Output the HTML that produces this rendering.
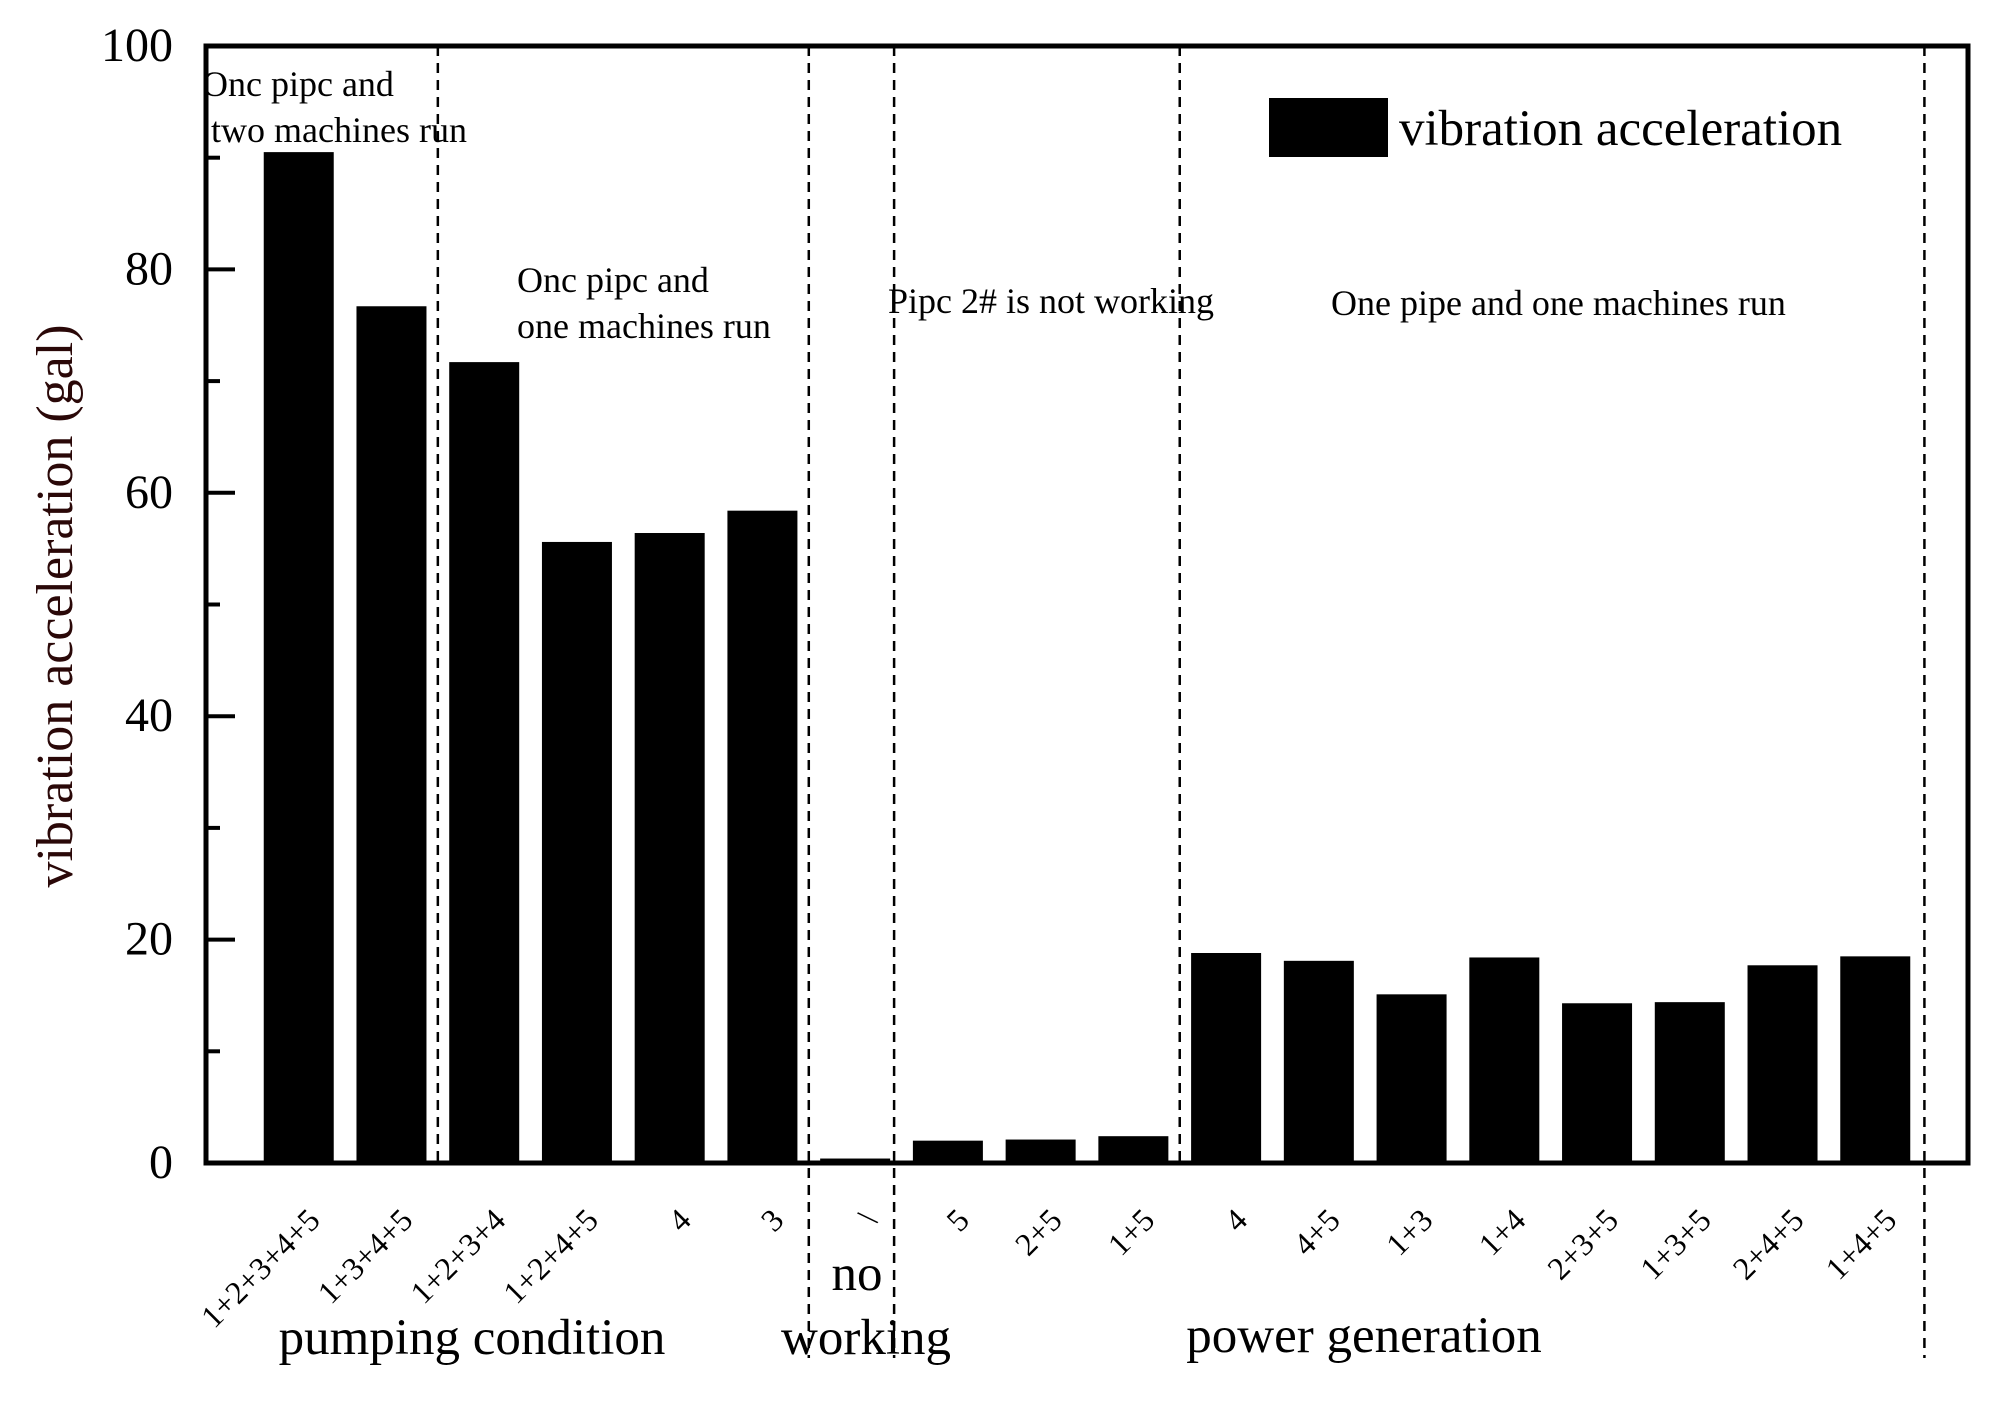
<!DOCTYPE html>
<html><head><meta charset="utf-8"><style>
html,body{margin:0;padding:0;background:#fff}
svg{display:block;font-family:"Liberation Serif",serif}
</style></head><body>
<svg id="chart" width="1995" height="1406" viewBox="0 0 1995 1406">
<g id="marks"></g>
</svg>
<script>
const categories=["1+2+3+4+5","1+3+4+5","1+2+3+4","1+2+4+5","4","3","\\","5","2+5","1+5","4","4+5","1+3","1+4","2+3+5","1+3+5","2+4+5","1+4+5"];
const values=[90.5,76.7,71.7,55.6,56.4,58.4,0.4,2.0,2.1,2.4,18.8,18.1,15.1,18.4,14.3,14.4,17.7,18.5];
const yTicks=[0,20,40,60,80,100];
const yMinor=[10,30,50,70,90];
const dividers=[2.5,6.5,7.42,10.5,18.53];
const dividerLong=[false,true,true,false,true];

const L=206,R=1968,T=46,B=1163;
const x=c=>L+(R-L)*c/19;
const y=v=>B-(B-T)*v/100;
const NS="http://www.w3.org/2000/svg";
const svg=document.getElementById('marks');
function mk(tag,attrs,parent){const e=document.createElementNS(NS,tag);for(const k in attrs)e.setAttribute(k,attrs[k]);(parent||svg).appendChild(e);return e;}

values.forEach((v,i)=>{
  const b=mk('rect',{x:x(i+1)-35,y:y(v),width:70,height:B-y(v),fill:'#000'});
  
  
  const lx=x(i+1)+23, ly=1222;
  const t=mk('text',{x:lx,y:ly,'font-size':32,'text-anchor':'end',transform:`rotate(-45 ${lx} ${ly})`});
  t.textContent=categories[i];
  
  
});
dividers.forEach((d,i)=>{
  const l=mk('line',{x1:x(d),x2:x(d),y1:T,y2:dividerLong[i]?1358:B,stroke:'#000','stroke-width':2.5,'stroke-dasharray':'10 7'});
  
  
});
yTicks.forEach(v=>{
  const l=mk('line',{x1:L,x2:L+29,y1:y(v),y2:y(v),stroke:'#000','stroke-width':4});
  
  
  const t=mk('text',{x:173,y:y(v)+15,'font-size':48,'text-anchor':'end'});
  t.textContent=v;
  
  
});
yMinor.forEach(v=>{
  const l=mk('line',{x1:L,x2:L+14,y1:y(v),y2:y(v),stroke:'#000','stroke-width':4});
  
  
});
const frame=mk('rect',{x:L,y:T,width:R-L,height:B-T,fill:'none',stroke:'#000','stroke-width':5});


</script>
<script>
(function(){
const NS="http://www.w3.org/2000/svg";
const s=document.getElementById('chart');
function tx(str,x,y,size,name,extra){const t=document.createElementNS(NS,'text');t.setAttribute('x',x);t.setAttribute('y',y);t.setAttribute('font-size',size);if(extra)for(const k in extra)t.setAttribute(k,extra[k]);t.textContent=str;


s.appendChild(t);}
tx('vibration acceleration (gal)',0,0,52,'y-axis-title',{'text-anchor':'middle',fill:'#2a0808',transform:'translate(72 606) rotate(-90)'});
tx('Onc pipc and',202,96,36,'annotation-two-machines-1');
tx('two machines run',211,142,36,'annotation-two-machines-2');
tx('Onc pipc and',517,292,36,'annotation-one-machine-1');
tx('one machines run',517,338,36,'annotation-one-machine-2');
tx('Pipc 2# is not working',888,313,36,'annotation-pipe2');
tx('One pipe and one machines run',1331,315,36,'annotation-power');
tx('pumping condition',472,1354,51,'group-label-pumping',{'text-anchor':'middle'});
tx('no',857,1290,51,'group-label-no',{'text-anchor':'middle'});
tx('working',866,1354,51,'group-label-working',{'text-anchor':'middle'});
tx('power generation',1364,1352,51,'group-label-power',{'text-anchor':'middle'});
const r=document.createElementNS(NS,'rect');r.setAttribute('x',1269);r.setAttribute('y',98);r.setAttribute('width',119);r.setAttribute('height',59);r.setAttribute('fill','#000');


s.appendChild(r);
tx('vibration acceleration',1399,145,51,'legend-label');
})();
</script>
</body></html>
